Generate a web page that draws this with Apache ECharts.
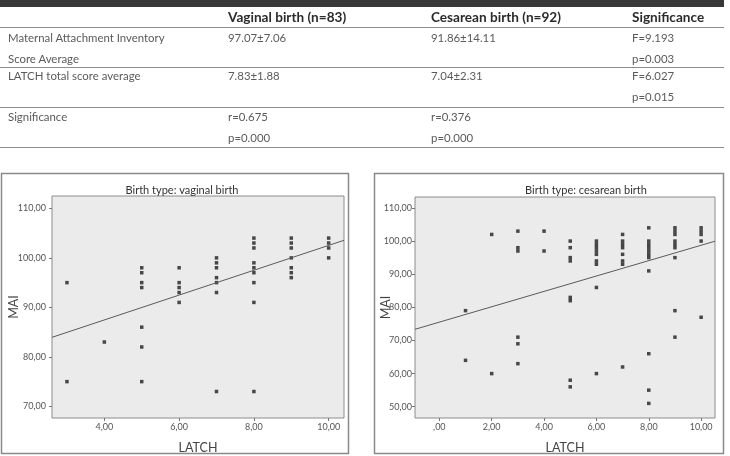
<!DOCTYPE html>
<html>
<head>
<meta charset="utf-8">
<script src="https://cdn.jsdelivr.net/npm/echarts@6/dist/echarts.min.js"></script>
<style>
  html, body { margin: 0; padding: 0; background: #fff; }
  #wrap { position: relative; width: 730px; height: 456px; overflow: hidden; font-family: Lato, "Open Sans", sans-serif; }
  #chart { position: absolute; left: 0; top: 0; width: 730px; height: 456px; }
  .bar { position: absolute; left: 0; top: 0; width: 724px; height: 7px; background: #383838; }
  .rule { position: absolute; left: 0; width: 724px; height: 0; border-top: 1px solid #8f8f8f; }
  .cell { position: absolute; font-size: 11.4px; color: #5a5a5a; line-height: 20.5px; white-space: nowrap; }
  .head { font-weight: bold; font-size: 13.6px; color: #2b2b2b; line-height: 20px; }
</style>
</head>
<body>
<div id="wrap">
  <div id="chart"></div>
  <div id="table"></div>
</div>
<script>
// table text
const tableHeader = ["", "Vaginal birth (n=83)", "Cesarean birth (n=92)", "Significance"];
const rowLabels = [["Maternal Attachment Inventory", "Score Average"], ["LATCH total score average"], ["Significance"]];
const vaginalCol = [["97.07±7.06"], ["7.83±1.88"], ["r=0.675", "p=0.000"]];
const cesareanCol = [["91.86±14.11"], ["7.04±2.31"], ["r=0.376", "p=0.000"]];
const signifCol = [["F=9.193", "p=0.003"], ["F=6.027", "p=0.015"], []];

// scatter data: [LATCH, MAI]
const vaginalLatch = [3, 3, 4, 5, 5, 5, 5, 5, 5, 5, 6, 6, 6, 6, 6, 7, 7, 7, 7, 7, 7, 7,
  8, 8, 8, 8, 8, 8, 8, 8, 8, 9, 9, 9, 9, 9, 9, 9, 10, 10, 10, 10];
const vaginalMai = [95, 75, 83, 98, 97, 95, 94, 86, 82, 75, 98, 95, 94, 93, 91, 100, 99, 98, 96, 95, 93, 73,
  104, 103, 102, 99, 98, 97, 95, 91, 73, 104, 103, 102, 100, 98, 97, 96, 104, 103, 102, 100];

const cesareanLatch = [1, 1, 2, 2, 3, 3, 3, 3, 3, 3, 4, 4, 5, 5, 5, 5, 5, 5, 5, 5,
  6, 6, 6, 6, 6, 6, 6, 6, 6, 7, 7, 7, 7, 7, 7, 7, 7,
  8, 8, 8, 8, 8, 8, 8, 8, 8, 8, 8, 9, 9, 9, 9, 9, 9, 9, 9, 9, 10, 10, 10, 10, 10];
const cesareanMai = [79, 64, 102, 60, 103, 98, 97, 71, 69, 63, 103, 97, 100, 98, 95, 94, 83, 82, 58, 56,
  100, 99, 98, 97, 96, 94, 93, 86, 60, 102, 100, 99, 98, 96, 94, 93, 62,
  104, 100, 99, 98, 97, 96, 95, 91, 66, 55, 51, 104, 103, 102, 100, 99, 98, 95, 79, 71, 104, 103, 102, 100, 77];

// fit lines: MAI = a + b * LATCH
const vaginalFit = { a: 77.42, b: 2.51 };
const cesareanFit = { a: 75.53, b: 2.32 };

// axis ticks
const vaginalXTicks = [4, 6, 8, 10];
const cesareanXTicks = [0, 2, 4, 6, 8, 10];
const vaginalYTicks = [70, 80, 90, 100, 110];
const cesareanYTicks = [50, 60, 70, 80, 90, 100, 110];

// build table
let table = document.getElementById("table");
let html = '<div class="bar"></div>';
let colX = [8, 228, 431, 632];
tableHeader.forEach((t, i) => {
  html += '<div class="cell head" style="left:' + colX[i] + 'px;top:7px">' + t + "</div>";
});
let ruleY = [27, 67, 107, 147];
ruleY.forEach((y) => {
  html += '<div class="rule" style="top:' + y + 'px"></div>';
});
let rowTop = [28, 66, 107];
[rowLabels, vaginalCol, cesareanCol, signifCol].forEach((col, c) => {
  col.forEach((lines, r) => {
    html += '<div class="cell" style="left:' + colX[c] + "px;top:" + rowTop[r] + 'px">' + lines.join("<br>") + "</div>";
  });
});
table.innerHTML = html;

function fmt(v) {
  let s = v.toFixed(2).replace(".", ",");
  return s.indexOf("0,") === 0 ? s.slice(1) : s;
}
function pairs(xs, ys) {
  return xs.map((x, i) => [x, ys[i]]);
}
function fitLine(fit, x0, x1) {
  return [[x0, fit.a + fit.b * x0], [x1, fit.a + fit.b * x1]];
}

let labelStyle = { color: "#555", fontSize: 9, fontFamily: "Lato" };
let nameStyle = { color: "#444", fontSize: 12.5, fontFamily: "Lato" };

function xAxis(idx, min, max, ticks) {
  return {
    gridIndex: idx, type: "value", min: min, max: max,
    name: "LATCH", nameLocation: "middle", nameGap: 23, nameMoveOverlap: false, nameTextStyle: nameStyle,
    axisLine: { show: false, onZero: false },
    axisTick: { show: true, customValues: ticks, length: 3, lineStyle: { color: "#777" } },
    axisLabel: { customValues: ticks, formatter: fmt, margin: 5, ...labelStyle },
    splitLine: { show: false },
  };
}
function yAxis(idx, min, max, ticks, gap, margin) {
  return {
    gridIndex: idx, type: "value", min: min, max: max,
    name: "MAI", nameLocation: "middle", nameGap: gap, nameMoveOverlap: false, nameTextStyle: nameStyle,
    axisLine: { show: false, onZero: false },
    axisTick: { show: true, customValues: ticks, length: 3, lineStyle: { color: "#777" } },
    axisLabel: { customValues: ticks, formatter: fmt, margin: margin, ...labelStyle },
    splitLine: { show: false },
  };
}

let vx = [2.6, 10.41], vy = [67.65, 112.5];
let cx = [-0.93, 10.53], cy = [46.6, 113.3];

let myChart = echarts.init(document.getElementById("chart"), null, { renderer: "canvas" });
let option = {
  animation: false,
  textStyle: { fontFamily: "Lato" },
  title: [
    { text: "Birth type: vaginal birth", left: 182, top: 184.5, textAlign: "center", padding: 0,
      textStyle: { color: "#333", fontSize: 11, fontWeight: "normal", fontFamily: "Lato" } },
    { text: "Birth type: cesarean birth", left: 586, top: 184.5, textAlign: "center", padding: 0,
      textStyle: { color: "#333", fontSize: 11, fontWeight: "normal", fontFamily: "Lato" } },
  ],
  graphic: [
    { type: "rect", shape: { x: 1.5, y: 173.5, width: 347, height: 280 },
      style: { fill: "none", stroke: "#8a8a8a", lineWidth: 1.5 } },
    { type: "rect", shape: { x: 374.5, y: 173.5, width: 349, height: 280 },
      style: { fill: "none", stroke: "#8a8a8a", lineWidth: 1.5 } },
  ],
  grid: [
    { left: 52, top: 196, width: 292, height: 222, show: true, backgroundColor: "#ebebeb", borderColor: "#8c8c8c", borderWidth: 1 },
    { left: 415, top: 197, width: 300, height: 221, show: true, backgroundColor: "#ebebeb", borderColor: "#8c8c8c", borderWidth: 1 },
  ],
  xAxis: [xAxis(0, vx[0], vx[1], vaginalXTicks), xAxis(1, cx[0], cx[1], cesareanXTicks)],
  yAxis: [yAxis(0, vy[0], vy[1], vaginalYTicks, 32, 6), yAxis(1, cy[0], cy[1], cesareanYTicks, 23, 3)],
  series: [
    { type: "scatter", xAxisIndex: 0, yAxisIndex: 0, symbol: "rect", symbolSize: 3.5,
      itemStyle: { color: "#1e1e1e" }, data: pairs(vaginalLatch, vaginalMai) },
    { type: "line", xAxisIndex: 0, yAxisIndex: 0, showSymbol: false, symbol: "none",
      lineStyle: { color: "#5a5a5a", width: 1 }, data: fitLine(vaginalFit, vx[0], vx[1]) },
    { type: "scatter", xAxisIndex: 1, yAxisIndex: 1, symbol: "rect", symbolSize: 3.5,
      itemStyle: { color: "#1e1e1e" }, data: pairs(cesareanLatch, cesareanMai) },
    { type: "line", xAxisIndex: 1, yAxisIndex: 1, showSymbol: false, symbol: "none",
      lineStyle: { color: "#5a5a5a", width: 1 }, data: fitLine(cesareanFit, cx[0], cx[1]) },
  ],
};
myChart.setOption(option);
</script>
</body>
</html>
